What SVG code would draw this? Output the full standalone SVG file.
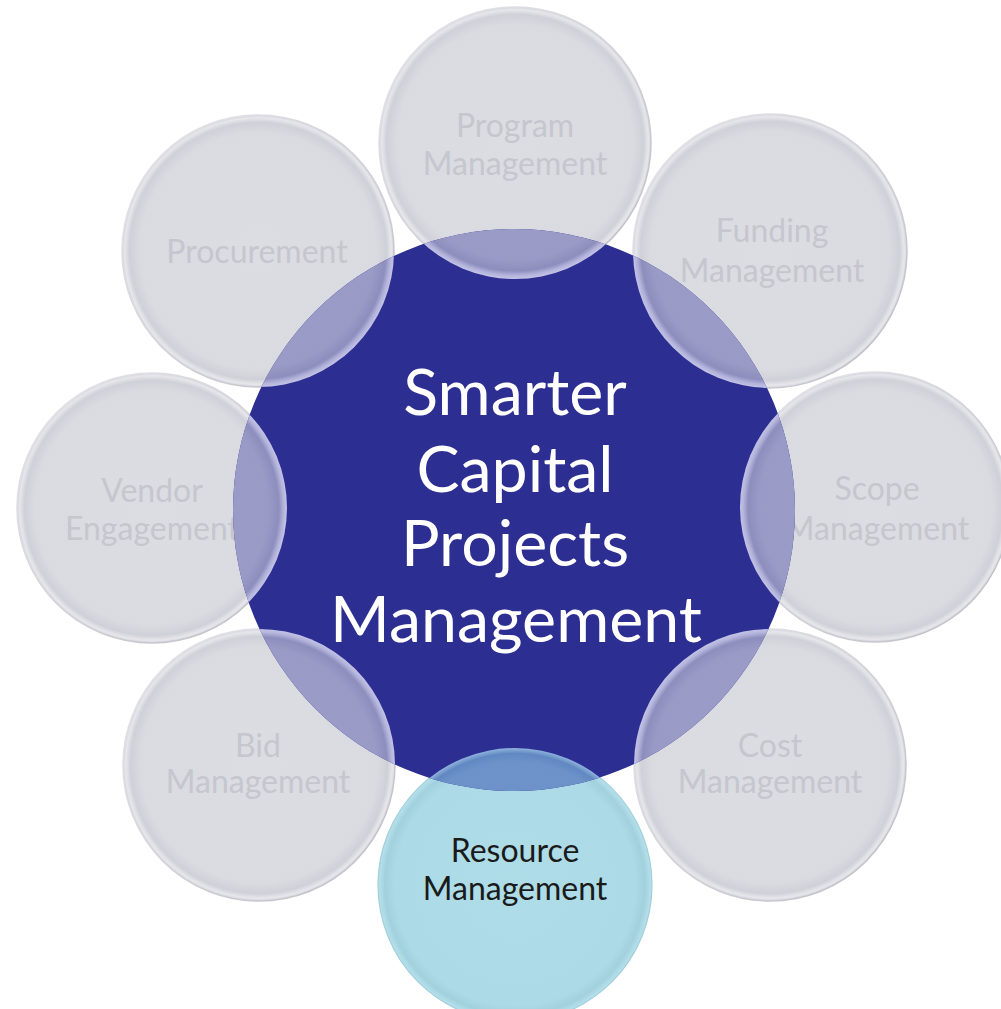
<svg xmlns="http://www.w3.org/2000/svg" width="1001" height="1009" viewBox="0 0 1001 1009">
<defs>
<radialGradient id="grayFill" cx="0.5" cy="0.5" r="0.5">
<stop offset="0" stop-color="#dcdde3"/>
<stop offset="0.87" stop-color="#dadae1"/>
<stop offset="0.945" stop-color="#d0d0d8"/>
<stop offset="0.98" stop-color="#e6e6eb"/>
<stop offset="1" stop-color="#d4d4dc"/>
</radialGradient>
<radialGradient id="blueFill" cx="0.5" cy="0.5" r="0.5">
<stop offset="0" stop-color="#aedce7"/>
<stop offset="0.88" stop-color="#acdae6"/>
<stop offset="0.95" stop-color="#a2d1de"/>
<stop offset="1" stop-color="#b8e2ec"/>
</radialGradient>
<radialGradient id="lensFill" cx="0.5" cy="0.5" r="0.5">
<stop offset="0" stop-color="#9d9dc9"/>
<stop offset="0.86" stop-color="#9a9ac6"/>
<stop offset="0.94" stop-color="#8e8ebe"/>
<stop offset="0.975" stop-color="#b4b4dc"/>
<stop offset="1" stop-color="#c4c4e6"/>
</radialGradient>
<radialGradient id="lensBlue" cx="0.5" cy="0.5" r="0.5">
<stop offset="0" stop-color="#6f95cb"/>
<stop offset="0.9" stop-color="#6c92c9"/>
<stop offset="0.96" stop-color="#6288c2"/>
<stop offset="1" stop-color="#8fb4dc"/>
</radialGradient>
<linearGradient id="rim" x1="0" y1="0" x2="1" y2="1">
<stop offset="0" stop-color="#e8e8ee"/>
<stop offset="1" stop-color="#bcbcc5"/>
</linearGradient>
<clipPath id="centerClip"><circle cx="514" cy="510" r="281"/></clipPath>
<style>
.outer{fill:url(#grayFill);stroke:url(#rim);stroke-width:1.5}
.res{fill:url(#blueFill);stroke:#a0cfdb;stroke-width:1.2}
.lens{fill:url(#lensFill)}
.lensB{fill:url(#lensBlue)}
.center{fill:#2d2e91}
.lbl{font-family:Lato,"Open Sans",sans-serif;font-size:32px;fill:#c6c6ce;text-anchor:middle}
.lblDark{font-family:Lato,"Open Sans",sans-serif;font-size:32px;fill:#1a1a1a;text-anchor:middle}
.title{font-family:Lato,"Open Sans",sans-serif;font-size:64.5px;fill:#ffffff;text-anchor:middle}
</style>
</defs>
<rect width="1001" height="1009" fill="#ffffff"/>
<g id="node-program">
<circle class="outer" cx="515" cy="143" r="136"/>
<text class="lbl" x="515" y="137">Program</text>
<text class="lbl" x="515" y="175">Management</text>
</g>
<g id="node-funding">
<circle class="outer" cx="770" cy="251" r="137"/>
<text class="lbl" x="772" y="242">Funding</text>
<text class="lbl" x="772" y="282">Management</text>
</g>
<g id="node-scope">
<circle class="outer" cx="875" cy="507" r="135"/>
<text class="lbl" x="877" y="500">Scope</text>
<text class="lbl" x="877" y="540">Management</text>
</g>
<g id="node-cost">
<circle class="outer" cx="770" cy="765" r="136"/>
<text class="lbl" x="770" y="757">Cost</text>
<text class="lbl" x="770" y="793">Management</text>
</g>
<g id="node-bid">
<circle class="outer" cx="259" cy="765" r="136"/>
<text class="lbl" x="258" y="757">Bid</text>
<text class="lbl" x="258" y="793">Management</text>
</g>
<g id="node-vendor">
<circle class="outer" cx="152" cy="508" r="135"/>
<text class="lbl" x="152" y="502">Vendor</text>
<text class="lbl" x="152" y="540">Engagement</text>
</g>
<g id="node-procurement">
<circle class="outer" cx="258" cy="251" r="136"/>
<text class="lbl" x="257" y="263">Procurement</text>
</g>
<g id="node-resource">
<circle class="res" cx="515" cy="885" r="137"/>
<text class="lblDark" x="515" y="862">Resource</text>
<text class="lblDark" x="515" y="900">Management</text>
</g>
<g id="node-center">
<circle class="center" cx="514" cy="510" r="281"/>
<g id="overlaps" clip-path="url(#centerClip)">
<circle class="lens" cx="515" cy="143" r="136"/>
<circle class="lens" cx="770" cy="251" r="137"/>
<circle class="lens" cx="875" cy="507" r="135"/>
<circle class="lens" cx="770" cy="765" r="136"/>
<circle class="lens" cx="259" cy="765" r="136"/>
<circle class="lens" cx="152" cy="508" r="135"/>
<circle class="lens" cx="258" cy="251" r="136"/>
<circle class="lensB" cx="515" cy="885" r="137"/>
</g>
<text class="title" x="515" y="415">Smarter</text>
<text class="title" x="515" y="492">Capital</text>
<text class="title" x="515" y="566">Projects</text>
<text class="title" x="516" y="642">Management</text>
</g>
<g id="connectors"/>
</svg>
